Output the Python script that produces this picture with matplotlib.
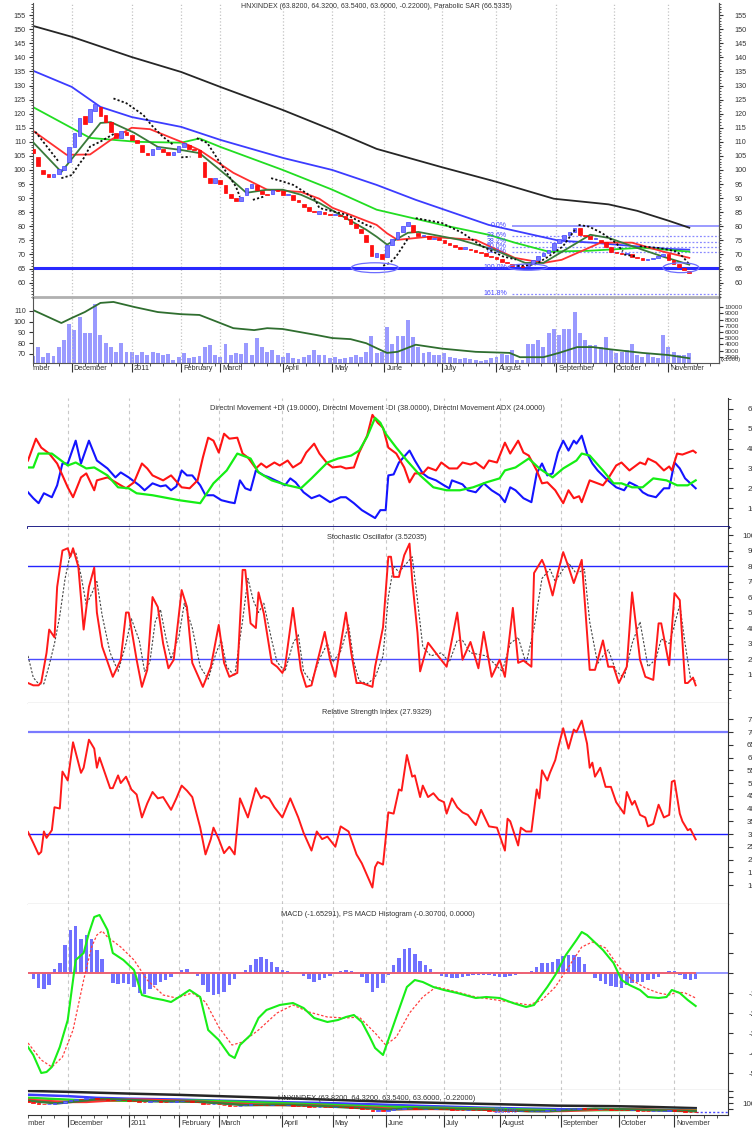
import matplotlib
matplotlib.use("Agg")
import matplotlib.pyplot as plt
from matplotlib import font_manager
from matplotlib.patches import Ellipse
from matplotlib.ticker import MultipleLocator
from matplotlib.transforms import Bbox, TransformedBbox, ScaledTranslation

nan = float("nan")

# x axis = trading day counted from ~10 Nov 2010
month_days = [-7, 15, 38, 57, 72, 96, 115, 135, 157, 178, 201, 223, 244]
month_names = ["November", "December", "2011", "February", "March", "April", "May",
               "June", "July", "August", "September", "October", "November"]

# candles, volume and MACD histogram are read every 2nd trading day
bar_day = list(range(0, 253, 2))
candle_open = [107.5, 104.5, 100, 98.5, 97.5, 98.5, 100, 103, 108, 112,
               119, 117, 121, 122.5, 119.5, 117, 113, 111.5, 113.5, 112.5,
               110.5, 109, 106, 105.5, 107.5, 107.5, 106.5, 105.5, 106.5, 108,
               109, 107.5, 107, 103, 97, 95.5, 96.5, 94.5, 91.5, 90,
               89, 91, 93.5, 94.5, 92.5, 91.5, 91.5, 93, 92.5, 91,
               91, 89.5, 88, 87, 85.5, 84.5, 85, 84.5, 84, 84,
               83.5, 82.5, 81, 79, 77, 73.5, 69, 70, 69, 73.5,
               75.5, 78, 80, 80.5, 77.5, 76.5, 76.5, 75.5, 76, 75,
               74, 73.5, 72.5, 72, 72, 71.5, 71, 70.5, 69.5, 69,
               68.5, 67.5, 66.5, 65.8, 66, 65.8, 66.5, 68, 69.5, 70.5,
               71.5, 74, 75.5, 77, 78, 79.5, 77, 76.5, 75.5, 75.2,
               74.5, 72.5, 71, 70.5, 70, 70, 69.2, 68.8, 68.2, 68.5,
               68.8, 69.5, 70, 68, 66.5, 65.3, 64.3]
candle_close = [106, 101.5, 98.5, 97.5, 98.5, 100.5, 101.5, 108, 113, 118.5,
                116.5, 121.5, 123.5, 119, 117, 113.5, 111.5, 114, 112.5, 110.5,
                109.5, 106.5, 105.5, 107.5, 108, 106.5, 105.5, 106.5, 108.5, 109.5,
                107.5, 107, 104.5, 97.5, 95.5, 97, 95, 92, 90, 89,
                90.5, 93.5, 95, 93, 91.5, 91, 93, 92.5, 91, 91.5,
                89.5, 88.5, 87, 85.5, 85, 85.5, 84.5, 84, 84.5, 83.5,
                82.5, 81, 79.5, 77.5, 74.5, 69.5, 70.5, 68.5, 73.5, 75.5,
                78, 80, 81.5, 78, 76.5, 77, 75.5, 76, 75, 74,
                73.5, 72.5, 72, 72.5, 71.5, 71, 70.5, 69.5, 69, 68.5,
                67.5, 67, 66, 66.3, 65.7, 66.5, 68, 69.5, 70.5, 71.5,
                74, 75.5, 77, 78, 79.5, 77, 76.5, 75.5, 75.8, 74.5,
                72.5, 71, 70.5, 70, 70.5, 69.2, 68.8, 68.2, 68.5, 68.8,
                69.5, 70.2, 68, 66.5, 65.5, 64.6, 63.6]
volume = [2150, 3640, 2050, 2580, 2150, 3640, 4720, 7280, 6310, 8450,
          5780, 5780, 10460, 5520, 4290, 3640, 2850, 4290, 2850, 2850,
          2320, 2850, 2320, 2850, 2700, 2320, 2450, 1520, 2050, 2580,
          1790, 2050, 2150, 3640, 3900, 2320, 2050, 4000, 2320, 2700,
          2450, 4290, 2320, 4990, 3640, 2850, 3130, 2320, 2050, 2580,
          1790, 1650, 2050, 2320, 3130, 2320, 2320, 1790, 2050, 1650,
          1790, 2050, 2320, 2050, 2850, 5350, 2580, 2850, 6840, 4050,
          5350, 5350, 7920, 5180, 3640, 2580, 2850, 2320, 2320, 2580,
          2050, 1790, 1650, 1790, 1650, 1520, 1400, 1520, 1790, 2050,
          2450, 2320, 3130, 1520, 1520, 4050, 4050, 4720, 3640, 5780,
          6400, 5520, 6500, 6500, 9250, 5780, 4720, 3910, 3910, 3640,
          5180, 3130, 2580, 2850, 3130, 4050, 2320, 2050, 2580, 2050,
          1790, 5520, 3640, 2850, 2320, 2320, 2580]
macd_hist = [0, -0.3, -0.75, -0.8, -0.6, 0.2, 0.5, 1.4, 2.15, 2.35,
             1.7, 1.9, 1.7, 1.15, 0.7, 0, -0.5, -0.55, -0.5, -0.55,
             -0.7, -1, -1.05, -0.8, -0.6, -0.45, -0.35, -0.2, 0.05, 0.15,
             0.2, 0.05, -0.15, -0.6, -0.95, -1.1, -1.05, -0.95, -0.6, -0.3,
             0, 0.15, 0.4, 0.7, 0.8, 0.7, 0.55, 0.3, 0.15, 0.1,
             0.05, -0.05, -0.15, -0.3, -0.45, -0.35, -0.25, -0.15, -0.05, 0.1,
             0.15, 0.1, 0, -0.2, -0.5, -0.95, -0.75, -0.5, -0.1, 0.4,
             0.75, 1.2, 1.25, 0.95, 0.6, 0.4, 0.2, 0.05, -0.15, -0.2,
             -0.25, -0.25, -0.2, -0.15, -0.1, -0.1, -0.1, -0.1, -0.15, -0.2,
             -0.2, -0.15, -0.1, -0.05, 0, 0.1, 0.3, 0.5, 0.5, 0.55,
             0.7, 0.85, 0.9, 0.9, 0.8, 0.45, 0, -0.25, -0.4, -0.55,
             -0.65, -0.7, -0.75, -0.6, -0.5, -0.45, -0.45, -0.35, -0.3, -0.2,
             -0.05, 0.1, 0.1, -0.1, -0.3, -0.35, -0.31]

# moving averages on the price chart, (day, value)
ma_black = [(0, 151.2), (15, 147.3), (38, 140.1), (57, 134.8), (72, 129.5), (96, 121.3),
            (115, 114.2), (132, 107.5), (157, 101), (178, 95.8), (200, 89.8), (221, 87.8),
            (232, 85.5), (244, 82), (252, 79.5)]
ma_blue = [(0, 135.3), (15, 129.5), (26, 122.4), (38, 118.8), (57, 115.3), (72, 110.7),
           (96, 104.3), (115, 100), (132, 94.7), (147, 89.4), (175, 80.5), (202, 74.9),
           (215, 74.2), (243, 72), (252, 71.7)]
ma_green = [(0, 122.4), (22, 111.4), (40, 110), (57, 109.7), (64, 111.2), (72, 108.2),
            (96, 100), (115, 93), (132, 85.9), (157, 80.5), (175, 77), (185, 74.2),
            (198, 71), (213, 71.3), (234, 72.4), (252, 71)]
ma_red = [(0, 114), (13, 105.4), (22, 105.5), (30, 110.7), (38, 115), (45, 114.5), (57, 110),
          (64, 107.1), (77, 99), (90, 93), (103, 92.2), (110, 89.8), (115, 86.6), (132, 80.5),
          (136, 77.5), (140, 75.2), (152, 76.3), (170, 75.2), (185, 68.8), (196, 67),
          (203, 68.1), (218, 74.2), (230, 74.2), (242, 71), (252, 68.8)]
ma_dkgreen = [(0, 110), (11, 99.3), (26, 116.7), (30, 117), (39, 113.2), (48, 108.2),
              (57, 107.1), (64, 106), (75, 97.6), (82, 91.9), (90, 93), (96, 93), (103, 91.2),
              (110, 88.3), (128, 78.8), (132, 76.3), (136, 73.5), (144, 77.7), (148, 78),
              (164, 75.2), (177, 71.7), (189, 67), (196, 67), (209, 74.2), (214, 77),
              (221, 75.9), (234, 71.7), (242, 69.2), (252, 66.4)]

# parabolic SAR, segments split by nan
sar = [(1, 113.6), (7, 106.5), (10, 102.9), (nan, nan),
       (11, 97.1), (15, 98.2), (18, 102.3), (19.5, 104.1), (22, 108.3), (26, 110.1), (31.5, 113), (nan, nan),
       (31, 125.4), (36, 123.7), (42.5, 119.5), (45.5, 116), (50, 111.8), (54, 108.9), (nan, nan),
       (57, 104.5), (60.5, 104.7), (nan, nan),
       (63, 111.3), (67, 109.6), (69.5, 106), (72, 102.4), (75.5, 97.6), (78, 94.1), (79.5, 90.5), (nan, nan),
       (84.5, 89.4), (88.5, 90.5), (nan, nan),
       (91.5, 97.1), (96, 95.9), (100, 94.7), (105, 91.8), (108.5, 89.4), (110, 86.5), (120.5, 84.1),
       (128, 80.5), (131, 79.5), (nan, nan),
       (134.5, 66), (137, 67), (139.5, 69.3), (142, 72.8), (144.5, 76.4), (nan, nan),
       (147, 82.9), (157, 81.2), (165, 77.6), (172.5, 72.9), (180.5, 69.3), (185.5, 68.2), (nan, nan),
       (186, 65.9), (193, 66.5), (198, 69.3), (203.5, 72.9), (208.5, 79.3), (nan, nan),
       (209.5, 80.5), (213.5, 79.9), (218.5, 77.6), (224, 74), (226.5, 71.1), (nan, nan),
       (227, 70), (231.5, 69.3), (nan, nan),
       (233, 72.9), (240.5, 72.3), (247, 71.1), (249.5, 69.2), (252, 66.5)]

support_level = 65.3
fib_levels = [80.2, 76.7, 74.5, 72.8, 71.0, 65.3, 56.1]
fib_labels = ["0.0%", "23.6%", "38.2%", "50.0%", "61.8%", "100.0%", "161.8%"]
ellipse_marks = [(131.3, 65.3, 18, 3.5), (190, 65.5, 15, 2.2), (248.8, 65.3, 13.8, 3.5)]

vol_ma = [(0, 111), (11, 98.8), (15, 103.5), (20, 109), (26, 117.5), (31, 118.4), (39, 113.7),
          (48, 109), (57, 107), (64, 106.3), (69, 101.6), (77, 94), (85, 92.2), (90, 94),
          (96, 93.2), (109, 87.6), (115, 84.8), (122, 83.8), (128, 80), (132, 75.4), (136, 71),
          (140, 72), (147, 78.6), (157, 75), (170, 72), (183, 71), (187, 67), (196, 67),
          (202, 71), (209, 76.4), (215, 76.4), (221, 74.5), (234, 71), (244, 69), (252, 66)]

pdi = [(0, 18), (2, 15), (4, 12.5), (6, 17.5), (9, 15.5), (11, 21.5), (13, 32.5), (15, 32.5),
       (18, 44), (20, 32.5), (23, 44), (26, 34), (30, 30), (33, 25.5), (35, 28), (38, 25.5),
       (42, 21.5), (44, 19), (47, 22.5), (50, 21), (52, 21.5), (54, 19), (56, 21), (58, 29),
       (60, 26.5), (62, 26.5), (65, 21.5), (67, 16.5), (70, 16.5), (73, 14), (76, 13), (78, 12.5),
       (80, 24), (82, 20), (84, 19), (86, 29), (89, 26.5), (91, 25.5), (95, 23), (97, 21.5),
       (99, 25), (101, 23), (104, 18), (107, 15), (110, 16.5), (114, 13), (118, 15.5), (120, 15.5),
       (123, 12.5), (126, 9), (131, 5), (133, 9), (135, 9), (136, 26.5), (138, 27), (140, 33),
       (143, 37.5), (144, 39), (146, 34), (149, 27.5), (151, 25.5), (154, 24), (157, 21.5),
       (159, 20), (160, 24), (164, 22), (166, 19), (169, 18), (172, 22.5), (175, 19), (178, 16.5),
       (180, 13), (182, 20.5), (184, 19), (187, 15), (190, 13), (192, 27.5), (194, 32.5),
       (196, 26.5), (198, 27.5), (200, 38), (202, 44), (204, 39), (206, 44), (207, 42.5),
       (209, 46.5), (211, 37.5), (213, 32.5), (215, 29), (218, 25), (222, 20.5), (225, 19),
       (227, 23), (230, 21), (232, 18), (234, 16.5), (237, 15.5), (240, 20), (242, 20), (244, 33),
       (246, 30), (248, 25), (252, 20)]
mdi = [(0, 34), (3, 45), (5, 40.5), (8, 37.5), (11, 32.5), (15, 20.5), (17, 15.5), (20, 25.5),
       (22, 27.5), (25, 19), (26, 24), (30, 25.5), (35, 21.5), (37, 20), (40, 23), (43, 32.5),
       (45, 30), (47, 26.5), (51, 24), (54, 26.5), (58, 20.5), (61, 20), (64, 24), (66, 35.5),
       (68, 45.5), (70, 44), (72, 38), (74, 47.5), (76, 45), (79, 45.5), (81, 37.5), (83, 35.5),
       (86, 30), (88, 32.5), (90, 30.5), (93, 33), (95, 31.5), (98, 34), (100, 30.5), (103, 33),
       (105, 38), (108, 42.5), (110, 37.5), (113, 32.5), (115, 30.5), (118, 31), (120, 30),
       (123, 30.5), (125, 38), (128, 46.5), (130, 57), (132, 53), (134, 50.5), (136, 40.5),
       (139, 37.5), (142, 30.5), (144, 23), (146, 27.5), (149, 27.5), (151, 30.5), (154, 29),
       (156, 33), (159, 30), (162, 30), (164, 33), (167, 32), (169, 33), (172, 30), (174, 34),
       (177, 33), (180, 43), (182, 37.5), (185, 44), (187, 38), (189, 36.5), (192, 29),
       (194, 22.5), (196, 23), (199, 19), (202, 12.5), (204, 19), (206, 15), (208, 16), (209, 13),
       (212, 24), (214, 23), (217, 21.5), (219, 25), (222, 31.5), (224, 33), (227, 29), (229, 31),
       (231, 33), (233, 32), (234, 35), (237, 33), (240, 29), (242, 31), (243, 29), (245, 37.5),
       (247, 37), (249, 38), (251, 39), (252, 38)]
adx = [(0, 30.5), (2, 30.5), (4, 37.5), (9, 37.5), (15, 31.5), (18, 33), (22, 30), (25, 30.5),
       (30, 26.5), (34, 20.5), (38, 20), (41, 17.5), (47, 16.5), (57, 14), (65, 12.5), (70, 22.5),
       (75, 29), (79, 37.5), (84, 35), (87, 28), (92, 24), (98, 21.5), (103, 20), (107, 25),
       (113, 33), (117, 35), (122, 36.5), (125, 39), (128, 46), (131, 55.5), (133, 53),
       (135, 47.5), (139, 40.5), (143, 34), (148, 26.5), (153, 20.5), (158, 19), (163, 19),
       (168, 20.5), (173, 23), (178, 25), (180, 29), (184, 30.5), (189, 35), (193, 30),
       (198, 25.5), (202, 30), (207, 34), (209, 37.5), (212, 36.5), (217, 29), (221, 22.5),
       (224, 22.5), (228, 20.5), (232, 20.5), (236, 25), (241, 24), (245, 21.5), (249, 21.5),
       (252, 24)]

stoch_k = [(0, 4.5), (2, 3), (4, 3), (5, 5), (7, 24), (8, 39), (10, 34), (11, 66.5), (13, 90),
           (15, 91.5), (16, 86), (17, 91.5), (19, 79.5), (21, 39), (23, 66.5), (25, 79), (26, 50),
           (28, 28), (32, 8.5), (35, 19.5), (37, 50), (38, 50), (41, 19.5), (43, 2), (45, 13),
           (47, 60), (49, 53.5), (51, 30), (53, 14), (55, 19.5), (58, 64.5), (60, 53.5),
           (62, 17.5), (66, 2), (69, 15), (72, 42), (74, 17.5), (76, 8.5), (79, 11), (81, 77.5),
           (82, 77.5), (84, 43), (86, 40), (87, 63), (89, 49.5), (92, 17.5), (94, 15), (96, 11),
           (97, 15), (100, 53), (103, 13), (105, 2), (107, 3), (112, 37.5), (114, 19.5),
           (116, 8.5), (120, 50), (122, 24), (124, 4.5), (126, 4.5), (130, 2), (131, 15),
           (134, 40.5), (136, 86), (137, 86), (138, 73), (140, 73), (142, 87), (144, 94.5),
           (145, 71), (147, 37), (148, 12), (151, 30.5), (155, 21.5), (158, 15), (162, 50),
           (164, 19.5), (167, 31), (170, 14), (172, 37.5), (175, 8.5), (178, 19.5), (180, 8.5),
           (183, 53), (185, 17.5), (187, 19), (190, 15), (191, 75.5), (194, 84), (195, 80),
           (198, 61), (200, 76), (202, 89), (204, 79.5), (206, 69), (209, 84), (212, 13),
           (214, 13), (217, 32), (219, 15), (221, 15), (223, 4.5), (226, 15), (228, 63),
           (231, 19.5), (233, 8.5), (236, 6.5), (238, 43), (239, 43), (242, 16), (244, 62.5),
           (246, 58), (248, 4.5), (249, 4.5), (251, 8), (252, 3)]
stoch_d = [(0, 22), (2, 8), (4, 4), (6, 4), (8, 16), (10, 30), (12, 48), (14, 72), (16, 88),
           (18, 89), (20, 74), (22, 55), (24, 62), (26, 70), (28, 48), (31, 24), (34, 12),
           (37, 30), (39, 46), (42, 32), (44, 12), (46, 18), (48, 44), (50, 52), (52, 34),
           (54, 20), (57, 35), (59, 56), (62, 40), (65, 15), (68, 7), (71, 24), (73, 32), (75, 15),
           (78, 9), (81, 45), (83, 72), (85, 58), (87, 50), (89, 56), (92, 32), (94, 18), (97, 12),
           (100, 30), (102, 36), (104, 12), (107, 5), (110, 20), (113, 30), (115, 18), (118, 25),
           (121, 42), (123, 18), (125, 6), (128, 4), (131, 8), (134, 22), (136, 60), (138, 80),
           (140, 76), (142, 80), (145, 86), (147, 58), (149, 28), (152, 22), (156, 24), (159, 18),
           (162, 32), (164, 32), (167, 24), (170, 23), (173, 22), (176, 17), (179, 12), (182, 30),
           (185, 34), (188, 17), (191, 40), (194, 72), (197, 78), (199, 70), (202, 78), (204, 82),
           (207, 75), (210, 78), (212, 44), (215, 17), (217, 22), (219, 26), (222, 12), (225, 8),
           (228, 30), (231, 44), (234, 15), (237, 20), (239, 33), (242, 30), (244, 42), (246, 55),
           (248, 30), (250, 8), (252, 6)]

rsi = [(0, 30.8), (2, 26.5), (4, 22), (5, 23), (6, 31), (7, 28.5), (9, 31.5), (10, 40.5),
       (12, 40), (13, 54.5), (15, 51), (17, 66), (20, 54), (21, 56), (23, 67), (25, 63.5),
       (26, 56), (27, 60), (29, 54), (31, 48), (32, 48), (34, 53), (35, 50), (37, 52.5),
       (39, 47.5), (41, 45.5), (43, 36.5), (45, 42), (47, 46.5), (49, 44), (51, 44.5),
       (54, 39.5), (56, 44), (58, 49), (60, 47), (62, 44.5), (65, 32.5), (67, 22), (69, 28),
       (70, 32.5), (72, 28), (74, 22.5), (76, 25), (78, 22), (80, 44), (83, 36.5), (86, 48),
       (88, 44), (89, 45), (91, 44), (93, 40.5), (96, 36.5), (99, 44), (102, 36.5), (104, 30.5),
       (107, 23.5), (109, 31), (111, 28), (113, 29), (116, 25), (118, 33), (121, 31), (124, 22),
       (126, 18.5), (130, 9), (131, 17), (132, 19), (134, 18), (136, 38.5), (138, 38),
       (140, 47.5), (141, 47), (143, 61), (145, 52.5), (146, 53), (148, 44.5), (149, 49),
       (151, 44.5), (153, 46), (155, 43.5), (157, 42.5), (158, 38), (160, 44), (162, 40.5),
       (164, 38.5), (166, 37.5), (169, 33.5), (171, 39.5), (174, 33), (177, 32.5), (180, 23.5),
       (181, 36), (182, 35), (185, 25.5), (186, 32.5), (188, 31), (190, 31), (192, 47.5),
       (193, 44), (194, 55), (196, 51), (197, 54), (199, 59), (200, 63.5), (202, 71.5),
       (204, 63.5), (206, 71), (207, 70), (209, 74.5), (211, 65.5), (212, 56), (213, 58),
       (214, 52.5), (216, 56), (218, 48.5), (220, 48.5), (222, 42.5), (225, 38), (226, 46.5),
       (228, 41.5), (229, 43), (231, 37.5), (233, 36.5), (234, 33), (236, 34), (238, 41.5),
       (240, 36.5), (242, 37.5), (243, 50.5), (244, 51), (246, 38), (247, 35), (249, 31.5),
       (250, 32), (252, 27.9)]

macd = [(0, -3.7), (2, -4.1), (5, -5), (7, -4.95), (9, -4.7), (12, -3.7), (15, -2.35),
        (17, -0.35), (18, 0.65), (21, 1), (23, 2), (25, 2.8), (27, 2.9), (30, 2.15), (32, 1),
        (36, 0.65), (40, 0.15), (43, -1.1), (47, -1.25), (51, -1.35), (54, -1.45), (57, -1.2),
        (61, -0.85), (65, -1.2), (68, -2.85), (72, -3.35), (76, -4.1), (78, -4.25), (80, -3.6),
        (84, -3.1), (87, -2.25), (90, -1.85), (95, -1.6), (100, -1.5), (104, -1.75),
        (108, -2.25), (113, -2.45), (117, -2.35), (120, -2.2), (123, -2.1), (126, -2.45),
        (129, -3.2), (131, -3.75), (134, -4.1), (139, -2.2), (143, -0.7), (146, -0.35),
        (149, -0.45), (153, -0.7), (157, -0.85), (162, -1), (169, -1.25), (173, -1.2),
        (178, -1.25), (183, -1.5), (188, -1.7), (191, -1.6), (196, -0.7), (199, -0.1),
        (203, 0.9), (207, 1.65), (209, 2.05), (211, 1.9), (217, 1.15), (221, 0.5), (224, -0.35),
        (227, -0.6), (231, -0.85), (234, -1.2), (238, -1.25), (241, -1.2), (243, -0.85),
        (246, -1), (249, -1.35), (252, -1.65)]
macd_signal = [(0, -3.5), (5, -4.35), (9, -4.7), (13, -4.2), (17, -2.85), (21, -0.35),
               (24, 1.3), (26, 1.9), (28, 2.1), (30, 1.8), (35, 1.3), (40, 0.65), (45, -0.35),
               (51, -1.1), (56, -1.25), (62, -1), (67, -1.45), (72, -2.7), (77, -3.6),
               (81, -3.45), (87, -2.85), (94, -2), (100, -1.6), (106, -1.95), (113, -2.2),
               (120, -2.25), (125, -2.2), (131, -3), (135, -3.6), (139, -3.2), (144, -2),
               (149, -1.2), (154, -0.7), (159, -0.85), (169, -1.2), (182, -1.45), (189, -1.6),
               (194, -1.35), (199, -0.7), (204, 0.3), (209, 1.3), (213, 1.55), (218, 1.25),
               (223, 0.3), (228, -0.35), (233, -0.75), (238, -1), (242, -1.1), (245, -0.95),
               (248, -1), (252, -1.25)]

# ---- figure, positions in pixels of the 752x1131 picture ----
W, H = 752, 1131
fig = plt.figure(figsize=(W / 100, H / 100), dpi=100)

fams = {f.name for f in font_manager.fontManager.ttflist}
if "Liberation Sans Narrow" in fams:
    NARROW, NS = "Liberation Sans Narrow", 6.6
else:
    NARROW, NS = "Liberation Sans", 5.3
SMALL = "Liberation Sans"
INK = "#333333"
MONTHS = month_days[1:]


def px_axes(x0, y0, x1, y1):
    return fig.add_axes([x0 / W, 1 - y1 / H, (x1 - x0) / W, (y1 - y0) / H])


def px_text(x, y, s, **kw):
    return fig.text(x / W, 1 - y / H, s, **kw)


def xy(series):
    return [p[0] for p in series], [p[1] for p in series]


def month_axis(ax, size, family, tick_len, gap):
    ax.set_xticks(MONTHS, labels=month_names[1:], ha="left")
    ax.xaxis.set_minor_locator(MultipleLocator(5))
    ax.tick_params(axis="x", which="major", bottom=True, labelbottom=True, length=tick_len,
                   pad=gap - tick_len, labelsize=size, labelfontfamily=family, colors=INK)
    ax.tick_params(axis="x", which="minor", bottom=True, length=2.2, colors=INK)
    # the first month is cut by the left edge of the chart
    shift = ScaledTranslation(2 / 100, -gap / 72, fig.dpi_scale_trans)
    t = ax.text(month_days[0], 0, month_names[0], transform=ax.get_xaxis_transform() + shift,
                ha="left", va="top", fontsize=size, family=family, color=INK)
    t.set_clip_box(TransformedBbox(Bbox([[ax.get_position().x0, 0], [1, 1]]), fig.transFigure))
    t.set_clip_on(True)


def draw_candles(ax, width):
    colors = ["#7878ff" if c >= o else "#ff1010" for o, c in zip(candle_open, candle_close)]
    edges = ["#4040ff" if c >= o else "#ff0000" for o, c in zip(candle_open, candle_close)]
    body = [c - o for o, c in zip(candle_open, candle_close)]
    ax.bar(bar_day, body, bottom=candle_open, width=width, color=colors, edgecolor=edges,
           linewidth=0.5, zorder=4)


def draw_mas(ax, lw):
    ax.plot(*xy(ma_black), color="#262626", lw=lw, zorder=2)
    ax.plot(*xy(ma_blue), color="#3c3cff", lw=lw, zorder=2)
    ax.plot(*xy(ma_green), color="#22dd22", lw=lw, zorder=2)
    ax.plot(*xy(ma_red), color="#ff3030", lw=lw, zorder=2)
    ax.plot(*xy(ma_dkgreen), color="#3a7a3a", lw=lw, zorder=3)


def lower_panel(y0, y1, ylim, ticks, labels, minor=None):
    ax = px_axes(28, y0, 728, y1)
    ax.set_xlim(0, 264.2)
    ax.set_ylim(*ylim)
    ax.set_xticks(MONTHS)
    ax.tick_params(axis="x", which="both", length=0, labelbottom=False)
    ax.grid(axis="x", color="#c8c8c8", ls=(0, (3, 3)), lw=0.8)
    ax.set_axisbelow(True)
    ax.yaxis.tick_right()
    ax.set_yticks(ticks, labels=labels, ha="right")
    if minor:
        ax.yaxis.set_minor_locator(MultipleLocator(minor))
    ax.tick_params(axis="y", which="major", length=3.6, pad=16.6, labelsize=NS + 0.5,
                   labelfontfamily=NARROW, colors=INK)
    ax.tick_params(axis="y", which="minor", length=2.2, colors=INK)
    for s in ("top", "left"):
        ax.spines[s].set_visible(False)
    ax.spines["bottom"].set_color(INK)
    ax.spines["right"].set_color(INK)
    return ax


# ---- price panel ----
price_ticks = list(range(60, 160, 5))
ax_p = px_axes(32.7, 3, 719, 297)
ax_p.set_xlim(0, 263.4)
ax_p.set_ylim(54.9, 159.3)
ax_p.set_xticks(MONTHS)
ax_p.tick_params(axis="x", length=0, labelbottom=False)
ax_p.grid(axis="x", color="#c4c4c4", ls=":", lw=0.9)
ax_p.set_axisbelow(True)

draw_mas(ax_p, 1.3)
for i, (lvl, lab) in enumerate(zip(fib_levels, fib_labels)):
    ax_p.hlines(lvl, 184, 263.4, color="#8a8aff", lw=1.2 if i == 0 else 0.9,
                ls="-" if i == 0 else (0, (1.5, 1.5)), zorder=1.8)
    ax_p.text(182, lvl, lab, ha="right", va="center", fontsize=5, family=SMALL,
              color="#4646ff", zorder=5)
ax_p.axhline(support_level, color="#2a2aff", lw=2.2, zorder=2.5)
draw_candles(ax_p, 1.4)
ax_p.plot(*xy(sar), color="#111111", lw=1.3, ls=(0, (1.2, 1.2)), zorder=5)
for cx, cy, w, h in ellipse_marks:
    ax_p.add_patch(Ellipse((cx, cy), w, h, fill=False, ec="#6c6cff", lw=0.9, zorder=5))

ax_p.set_yticks(price_ticks)
ax_p.yaxis.set_minor_locator(MultipleLocator(1))
ax_p.tick_params(axis="y", which="major", length=3, pad=2, labelsize=5.2,
                 labelfontfamily=SMALL, colors=INK)
ax_p.tick_params(axis="y", which="minor", length=1.5, colors=INK)
ax_p.spines["top"].set_visible(False)
ax_p.spines["bottom"].set_color("#b0b0b0")
ax_p.spines["bottom"].set_linewidth(2)
ax_p.spines["left"].set_color("#555555")
ax_p.spines["right"].set_color("#555555")

ax_pr = ax_p.twinx()
ax_pr.set_ylim(ax_p.get_ylim())
ax_pr.set_yticks(price_ticks)
ax_pr.yaxis.set_minor_locator(MultipleLocator(1))
ax_pr.tick_params(axis="y", which="major", length=3, pad=8, labelsize=5.2,
                  labelfontfamily=SMALL, colors=INK)
ax_pr.tick_params(axis="y", which="minor", length=1.5, colors=INK)
for s in ("top", "bottom", "left"):
    ax_pr.spines[s].set_visible(False)
ax_pr.spines["right"].set_color("#555555")

px_text(376, 7, "HNXINDEX (63.8200, 64.3200, 63.5400, 63.6000, -0.22000), Parabolic SAR (66.5335)",
        ha="center", va="center", fontsize=5, family=SMALL, color=INK)

# ---- volume panel ----
ax_v = px_axes(32.7, 297, 719, 363)
ax_vr = ax_v.twinx()
ax_vr.bar(bar_day, volume, width=1.5, color="#9a9aff", lw=0, zorder=2)
ax_vr.set_ylim(1040, 11600)
ax_vr.set_yticks(list(range(2000, 11000, 1000)))
ax_vr.tick_params(axis="y", length=3, pad=1, labelsize=4.6, labelfontfamily=SMALL, colors=INK)
for s in ("top", "bottom", "left"):
    ax_vr.spines[s].set_visible(False)

ax_v.plot(*xy(vol_ma), color="#2f6e2f", lw=1.3)
ax_v.set_xlim(0, 263.4)
ax_v.set_ylim(61.6, 123)
ax_v.set_yticks([70, 80, 90, 100, 110])
ax_v.tick_params(axis="y", length=3, pad=2, labelsize=5.2, labelfontfamily=SMALL, colors=INK)
ax_v.set_zorder(ax_vr.get_zorder() + 1)
ax_v.patch.set_visible(False)
ax_v.grid(axis="x", color="#c4c4c4", ls=":", lw=0.9)
ax_v.spines["top"].set_visible(False)
for s in ("left", "right", "bottom"):
    ax_v.spines[s].set_color("#555555")
month_axis(ax_v, 5.3, SMALL, 6.5, 1.5)
px_text(721, 360, "(x1000)", ha="left", va="center", fontsize=4.2, family=SMALL, color=INK)

# ---- directional movement ----
ax_dmi = lower_panel(398, 527, (0.5, 65.5), list(range(10, 70, 10)),
                     [str(v) for v in range(10, 70, 10)], minor=5)
ax_dmi.plot(*xy(pdi), color="#1414ff", lw=1.5)
ax_dmi.plot(*xy(mdi), color="#ff1414", lw=1.5)
ax_dmi.plot(*xy(adx), color="#14ee14", lw=1.6)
ax_dmi.spines["bottom"].set_color("#101080")
ax_dmi.spines["bottom"].set_linewidth(2)
px_text(377, 409, "Directnl Movement +DI (19.0000), Directnl Movement -DI (38.0000), "
        "Directnl Movement ADX (24.0000)", ha="center", va="center", fontsize=NS,
        family=NARROW, color=INK)

# ---- stochastic ----
ax_sto = lower_panel(527, 703, (-8.4, 105.2), list(range(10, 110, 10)),
                     [str(v) for v in range(10, 110, 10)], minor=5)
ax_sto.axhline(80, color="#2424ff", lw=1)
ax_sto.axhline(20, color="#4a4aff", lw=1)
ax_sto.plot(*xy(stoch_d), color="#444444", lw=0.8, ls=(0, (2, 1.5)))
ax_sto.plot(*xy(stoch_k), color="#ff1a1a", lw=1.4)
px_text(377, 538, "Stochastic Oscillator (3.52035)", ha="center", va="center", fontsize=NS,
        family=NARROW, color=INK)

# ---- RSI ----
ax_rsi = lower_panel(703, 904, (2.55, 81.4), list(range(10, 80, 5)),
                     [str(v) for v in range(10, 80, 5)])
ax_rsi.axhline(70, color="#7a7aff", lw=1.6)
ax_rsi.axhline(30, color="#1a1aff", lw=1)
ax_rsi.plot(*xy(rsi), color="#ff1a1a", lw=1.4)
px_text(377, 712, "Relative Strength Index (27.9329)", ha="center", va="center", fontsize=NS,
        family=NARROW, color=INK)

# ---- MACD ----
ax_macd = lower_panel(904, 1090, (-5.85, 3.45), [2, 1, 0, -1, -2, -3, -4, -5],
                      ["2", "1", "0", "-1", "-2", "-3", "-4", "-5"])
ax_macd.bar(bar_day, macd_hist, width=1.3, color="#7070ff", lw=0, zorder=1)
ax_macd.axhline(0, color="#8c8cff", lw=1.3, zorder=1.5)
ax_macd.hlines(0, 0, 252, color="#ff5a5a", lw=1.2, zorder=1.6)
ax_macd.plot(*xy(macd_signal), color="#ff4040", lw=0.9, ls=(0, (2, 1.5)), zorder=2)
ax_macd.plot(*xy(macd), color="#18ee18", lw=1.5, zorder=3)
px_text(378, 914, "MACD (-1.65291), PS MACD Histogram (-0.30700, 0.0000)", ha="center",
        va="center", fontsize=NS, family=NARROW, color=INK)

# ---- overview strip with the date axis ----
ax_mini = lower_panel(1090, 1115, (51, 155), [75, 100, 125, 150], ["", "100", "", ""])
draw_mas(ax_mini, 1.8)
draw_candles(ax_mini, 1.4)
ax_mini.hlines(support_level, 252, 264.2, color="#4a4aff", lw=1, ls=(0, (1.5, 1.5)))
ax_mini.text(180, support_level, "100.0%", ha="center", va="center", fontsize=5,
             family=SMALL, color="#4646ff", zorder=5)
month_axis(ax_mini, NS, NARROW, 8.6, 3.5)
px_text(377, 1098, "HNXINDEX (63.8200, 64.3200, 63.5400, 63.6000, -0.22000)", ha="center",
        va="center", fontsize=NS, family=NARROW, color=INK)

# nudge month names just right of their tick
for ax in (ax_v, ax_mini):
    for lbl in ax.get_xticklabels():
        lbl.set_transform(lbl.get_transform() + ScaledTranslation(2 / 100, 0, fig.dpi_scale_trans))

fig.savefig("out.png", dpi=100)
